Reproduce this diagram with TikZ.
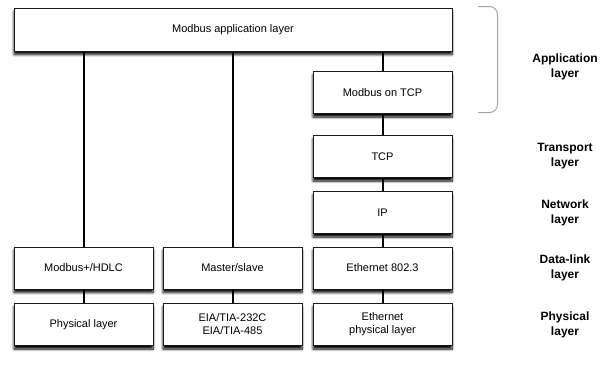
\documentclass[tikz,border=0pt]{standalone}
\usepackage{fontspec}
\setmainfont{Liberation Sans}
\usetikzlibrary{shadows.blur}
\begin{document}
\begin{tikzpicture}[x=1pt,y=-1pt,
  box/.style={draw=black!90, line width=1pt, fill=white, minimum width=139pt, minimum height=42pt,
    inner sep=0pt, align=center, font=\fontsize{11}{13}\selectfont,
    blur shadow={shadow xshift=0pt, shadow yshift=-3.5pt, shadow blur radius=2.5pt, shadow blur steps=8, shadow opacity=100}},
  conn/.style={line width=2pt, black},
  lbl/.style={align=center, font=\fontsize{12}{15}\selectfont\bfseries, inner sep=0pt},
  brace/.style={draw=black!35, line width=1pt, rounded corners=8pt}
]
\useasboundingbox (0,0) rectangle (600,365);
\clip (0,0) rectangle (600,365);
% boxes
\node[box, minimum width=438pt, minimum height=43pt] (app) at (233,29.5) {Modbus application layer};
\node[box] (mtcp) at (382.5,92.5) {Modbus on TCP};
\node[box] (tcp) at (382.5,156.5) {TCP};
\node[box] (ip) at (382.5,212.5) {IP};
\node[box] (eth) at (382.5,268) {Ethernet 802.3};
\node[box] (ethp) at (382.5,324.5) {Ethernet\\physical layer};
\node[box] (hdlc) at (83.5,268) {Modbus+/HDLC};
\node[box] (phy) at (83.5,324.5) {Physical layer};
\node[box] (ms) at (232.5,268) {Master/slave};
\node[box] (eia) at (232.5,324.5) {EIA/TIA-232C\\EIA/TIA-485};
% connectors
\draw[conn] (app.south -| hdlc.north) -- (hdlc.north);
\draw[conn] (app.south -| ms.north) -- (ms.north);
\draw[conn] (app.south -| mtcp.north) -- (mtcp.north);
\draw[conn] (mtcp.south) -- (tcp.north);
\draw[conn] (tcp.south) -- (ip.north);
\draw[conn] (ip.south) -- (eth.north);
\draw[conn] (eth.south) -- (ethp.north);
\draw[conn] (hdlc.south) -- (phy.north);
\draw[conn] (ms.south) -- (eia.north);
% bracket
\coordinate (bt) at (478,6.5);
\coordinate (bb) at (478,112.5);
\draw[brace] (bt) -- (497.5,6.5) -- (497.5,112.5) -- (bb);
% layer labels
\node[lbl] (lapp) at (565,67) {Application\\layer};
\node[lbl] (ltr) at (565,156.5) {Transport\\layer};
\node[lbl] (lnet) at (565,212.5) {Network\\layer};
\node[lbl] (ldl) at (565,268) {Data-link\\layer};
\node[lbl] (lphy) at (565,324.5) {Physical\\layer};
\end{tikzpicture}
\end{document}
